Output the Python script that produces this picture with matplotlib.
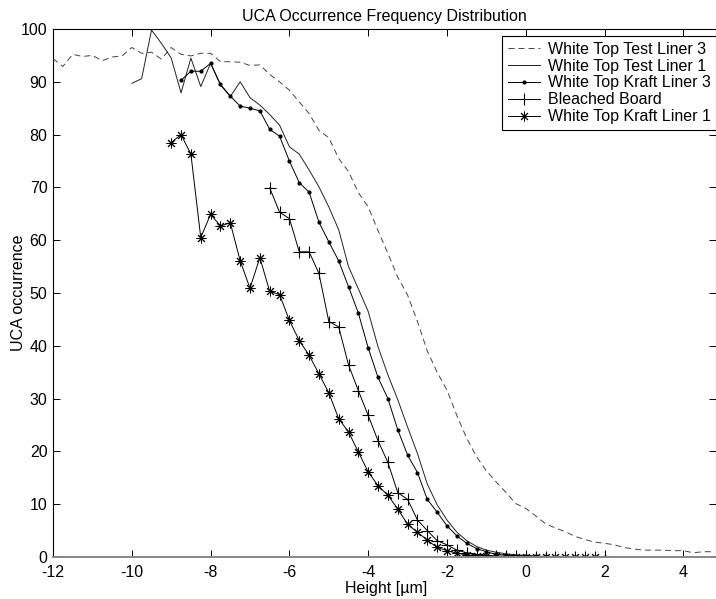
import numpy as np
import matplotlib
matplotlib.use("Agg")
import matplotlib.pyplot as plt

plt.rcParams['font.family'] = ['Liberation Sans', 'DejaVu Sans']
plt.rcParams['axes.unicode_minus'] = False

# ---------------- data ----------------
x_wttl3 = np.arange(-12.0, 4.76, 0.25)
y_wttl3 = [94.4, 92.9, 95.2, 94.8, 95.0, 94.0, 94.7, 94.9, 96.5, 95.4, 95.6, 94.3,
           96.5, 95.2, 94.9, 95.4, 95.4, 93.8, 93.8, 93.7, 93.1, 93.2, 91.4, 90.0,
           88.4, 86.2, 84.0, 80.8, 79.4, 75.5, 73.0, 69.0, 66.3, 61.8, 57.5, 53.0,
           49.6, 44.6, 39.0, 35.0, 31.6, 26.8, 22.5, 19.0, 16.3, 14.2, 12.2, 10.1,
           9.2, 7.8, 6.3, 5.5, 4.8, 3.9, 3.3, 2.8, 2.6, 2.3, 1.8, 1.5, 1.3, 1.3,
           1.3, 1.2, 1.2, 0.8, 1.0, 1.0]

x_wttl1 = np.arange(-10.0, 2.01, 0.25)
y_wttl1 = [89.7, 90.6, 99.8, 97.3, 94.5, 87.9, 94.5, 89.1, 93.5, 89.4, 87.2, 90.0,
           87.0, 85.6, 83.8, 81.8, 77.7, 76.3, 73.3, 70.1, 66.3, 62.0, 55.0, 50.8,
           46.5, 39.8, 34.5, 29.8, 24.6, 19.6, 13.8, 9.9, 7.0, 4.7, 3.1, 2.0, 1.3,
           0.9, 0.6, 0.4, 0.3, 0.2, 0.1, 0.1, 0.1, 0.05, 0.05, 0.0, 0.0]

x_wtkl3 = np.arange(-8.75, 2.01, 0.25)
y_wtkl3 = [90.3, 92.0, 92.0, 93.5, 89.5, 87.3, 85.4, 85.0, 84.5, 81.0, 79.7, 75.0,
           70.9, 69.1, 63.4, 59.7, 56.1, 51.2, 46.2, 39.6, 34.0, 30.0, 24.1, 19.3,
           16.0, 10.9, 8.5, 5.9, 4.0, 2.6, 1.6, 1.0, 0.5, 0.35, 0.25, 0.2, 0.1,
           0.1, 0.05, 0.05, 0.0, 0.0, 0.0, 0.0]

x_bb = np.arange(-6.5, 2.01, 0.25)
y_bb = [69.9, 65.3, 64.1, 57.8, 57.8, 53.7, 44.6, 43.6, 36.4, 31.5, 26.8, 22.0,
        17.9, 12.2, 10.9, 7.0, 5.0, 3.1, 2.3, 1.3, 0.8, 0.5, 0.3, 0.2, 0.1, 0.1,
        0.05, 0.05, 0.0, 0.0, 0.0, 0.0, 0.0, 0.0, 0.0]

x_wtkl1 = np.arange(-9.0, 1.76, 0.25)
y_wtkl1 = [78.5, 80.0, 76.3, 60.5, 64.9, 62.7, 63.3, 56.1, 50.9, 56.7, 50.3, 49.7,
           44.8, 41.0, 38.2, 34.7, 31.1, 26.2, 23.7, 19.9, 16.1, 13.5, 11.7, 9.1,
           6.2, 4.7, 3.2, 1.8, 1.2, 0.7, 0.4, 0.25, 0.15, 0.1, 0.05, 0.05, 0.0,
           0.0, 0.0, 0.0, 0.0, 0.0, 0.0, 0.0]

labels = ["White Top Test Liner 3", "White Top Test Liner 1",
          "White Top Kraft Liner 3", "Bleached Board", "White Top Kraft Liner 1"]

# ---------------- figure ----------------
fs = 11.5
fig = plt.figure(figsize=(7.16, 5.99), dpi=100)
ax = fig.add_axes([53/716, 1 - 557/599, 663/716, 528/599])

lw = 0.7
ax.plot(x_wttl3, y_wttl3, color='#444444', lw=lw, dashes=(6.2, 4.1), label=labels[0])
ax.plot(x_wttl1, y_wttl1, color='#222222', lw=lw, label=labels[1])
ax.plot(x_wtkl3, y_wtkl3, color='black', lw=lw, marker='.', ms=4, label=labels[2])
ax.plot(x_bb, y_bb, color='black', lw=lw, marker='+', ms=8, mew=0.8, label=labels[3])
ax.plot(x_wtkl1, y_wtkl1, color='black', lw=lw, marker=(8, 2, 0), ms=7, mew=0.7,
        label=labels[4])

ax.set_xlim(-12, -12 + 663/39.4)
ax.set_ylim(0, 100)
ax.set_xticks(np.arange(-12, 5, 2))
ax.set_yticks(np.arange(0, 101, 10))
ax.tick_params(direction='in', top=True, right=True, length=5, width=0.7,
               labelsize=fs)
ax.tick_params(axis='x', pad=6)
ax.tick_params(axis='y', pad=4)
for s in ax.spines.values():
    s.set_linewidth(0.8)
ax.spines['bottom'].set_color('#888888')
ax.spines['bottom'].set_linewidth(1.4)

ax.set_title("UCA Occurrence Frequency Distribution", fontsize=fs, pad=6)
ax.set_xlabel("Height [µm]", fontsize=fs)
ax.set_ylabel("UCA occurrence", fontsize=fs)
ax.xaxis.set_label_coords((386 - 53) / 663, -(588 - 557) / 528, transform=ax.transAxes)
ax.yaxis.set_label_coords(-(53 - 18) / 663, 0.5, transform=ax.transAxes)
ax.xaxis.label.set_va('center')
ax.yaxis.label.set_va('center')

leg = ax.legend(loc='upper right', bbox_to_anchor=(1.0, 1 - 7/528), borderaxespad=0,
                fancybox=False, framealpha=1, edgecolor='black', fontsize=fs,
                handlelength=2.0, handletextpad=0.5, labelspacing=0.12,
                borderpad=0.35)
leg.get_frame().set_linewidth(0.8)

fig.savefig("out.png", dpi=100)
